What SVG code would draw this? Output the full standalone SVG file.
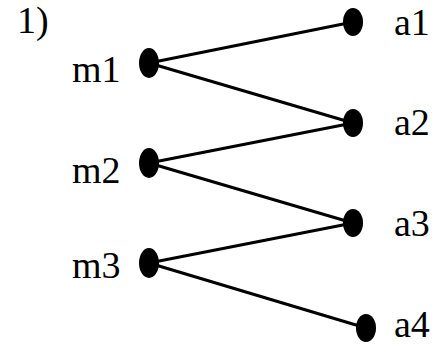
<svg xmlns="http://www.w3.org/2000/svg" width="442" height="348" viewBox="0 0 442 348">
<style>
text{font-family:"Liberation Serif","Times New Roman",serif;font-size:38px;fill:#000}
.dot{fill:#000}
.edge{stroke:#000;stroke-width:3;fill:none}
</style>
<rect width="442" height="348" fill="#fff"/>
<text x="17" y="33">1)</text>
<g id="connectors">
<line class="edge" x1="149" y1="63" x2="353" y2="22"/>
<line class="edge" x1="149" y1="63" x2="353" y2="123"/>
<line class="edge" x1="149" y1="163" x2="353" y2="123"/>
<line class="edge" x1="149" y1="163" x2="353" y2="223"/>
<line class="edge" x1="149" y1="263" x2="353" y2="223"/>
<line class="edge" x1="149" y1="263" x2="366" y2="328"/>
</g>
<g id="m1"><ellipse class="dot" cx="149" cy="63" rx="10" ry="15"/><text x="72" y="82">m1</text></g>
<g id="m2"><ellipse class="dot" cx="149" cy="163" rx="10" ry="15"/><text x="72" y="183">m2</text></g>
<g id="m3"><ellipse class="dot" cx="149" cy="263" rx="10" ry="15"/><text x="72" y="278">m3</text></g>
<g id="a1"><ellipse class="dot" cx="353" cy="22" rx="10" ry="14"/><text x="394" y="35">a1</text></g>
<g id="a2"><ellipse class="dot" cx="353" cy="123" rx="10" ry="14"/><text x="394" y="135">a2</text></g>
<g id="a3"><ellipse class="dot" cx="353" cy="223" rx="10" ry="14"/><text x="394" y="236">a3</text></g>
<g id="a4"><ellipse class="dot" cx="366" cy="328" rx="10" ry="14"/><text x="394" y="337">a4</text></g>
</svg>
